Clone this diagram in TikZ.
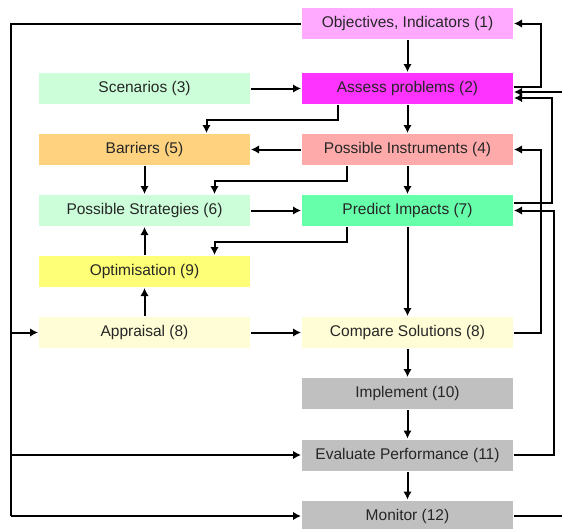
\documentclass[tikz,border=0pt]{standalone}
\usepackage{fontspec}
\setmainfont{Liberation Sans}
\usetikzlibrary{arrows.meta}
\definecolor{cobj}{HTML}{FFAAFF}
\definecolor{cass}{HTML}{FF33FF}
\definecolor{cscen}{HTML}{CCFFD9}
\definecolor{cbarr}{HTML}{FFD27F}
\definecolor{cinst}{HTML}{FFAAAA}
\definecolor{cpred}{HTML}{66FFAA}
\definecolor{copt}{HTML}{FFFF77}
\definecolor{capp}{HTML}{FFFDD6}
\definecolor{cgray}{HTML}{C0C0C0}
\tikzset{
  box/.style={minimum width=211pt, minimum height=31pt, inner sep=0pt,
    font=\fontsize{15.5}{18}\selectfont, text=black!85},
  arr/.style={-{Latex[length=8pt,width=8.5pt]}},
}
\begin{document}
\begin{tikzpicture}[x=1pt, y=-1pt, line width=2pt]
  \clip (0,0) rectangle (562,528);
  \node[box, fill=cobj] (obj) at (407.5, 23.5) {Objectives, Indicators (1)};
  \node[box, fill=cass] (ass) at (407.5, 88.5) {Assess problems (2)};
  \node[box, fill=cscen] (scen) at (144.5, 88.5) {Scenarios (3)};
  \node[box, fill=cbarr] (barr) at (144.5, 149.5) {Barriers (5)};
  \node[box, fill=cinst] (inst) at (407.5, 149.5) {Possible Instruments (4)};
  \node[box, fill=cscen] (strat) at (144.5, 210.5) {Possible Strategies (6)};
  \node[box, fill=cpred] (pred) at (407.5, 210.5) {Predict Impacts (7)};
  \node[box, fill=copt] (opt) at (144.5, 271.5) {Optimisation (9)};
  \node[box, fill=capp] (appr) at (144.5, 332.5) {Appraisal (8)};
  \node[box, fill=capp] (comp) at (407.5, 332.5) {Compare Solutions (8)};
  \node[box, fill=cgray] (impl) at (407.5, 393.5) {Implement (10)};
  \node[box, fill=cgray] (eval) at (407.5, 455) {Evaluate Performance (11)};
  \node[box, fill=cgray] (mon) at (407.5, 516) {Monitor (12)};
  \coordinate (lt) at (11, 23.5);
  \coordinate (lb) at (11, 516);
  \draw[arr] (obj) -- (ass);
  \draw[arr] (scen) -- (ass);
  \draw[arr] (ass) -- (inst);
  \draw[arr] ([xshift=-70pt]ass.south) -- ++(0,14.5) -| ([xshift=62pt]barr.north);
  \draw[arr] (inst) -- (barr);
  \draw[arr] (barr) -- (strat);
  \draw[arr] ([xshift=-61pt]inst.south) -- ++(0,14.5) -| ([xshift=70pt]strat.north);
  \draw[arr] (inst) -- (pred);
  \draw[arr] (strat) -- (pred);
  \draw[arr] ([xshift=-61pt]pred.south) -- ++(0,14.5) -| ([xshift=70pt]opt.north);
  \draw[arr] (opt) -- (strat);
  \draw[arr] (appr) -- (opt);
  \draw[arr] (appr) -- (comp);
  \draw[arr] (pred) -- (comp);
  \draw[arr] (comp) -- (impl);
  \draw[arr] (impl) -- (eval);
  \draw[arr] (eval) -- (mon);
  \draw (obj.west) -- (lt) -- (lb);
  \draw[arr] (lb) -- (mon.west);
  \draw[arr] (lt |- appr.west) -- (appr.west);
  \draw[arr] (lt |- eval.west) -- (eval.west);
  \draw[arr] ([yshift=1.5pt]ass.east) -- ++(27,0) |- (obj.east);
  \draw[arr] (mon.east) -- ++(62,0) |- ([yshift=-3.5pt]ass.east);
  \draw[arr] ([yshift=7.5pt]pred.east) -- ++(38,0) |- ([yshift=-9.5pt]ass.east);
  \draw[arr] (comp.east) -- ++(27,0) |- (inst.east);
  \draw[arr] (eval.east) -- ++(40,0) |- (pred.east);
\end{tikzpicture}
\end{document}
